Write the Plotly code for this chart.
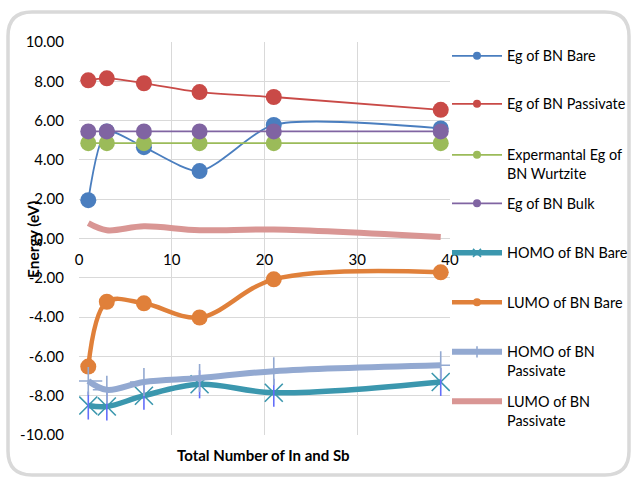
import plotly.graph_objects as go

# Number of In and Sb atoms in the cluster
n_atoms = [1, 3, 7, 13, 21, 39]

# Energies (eV)
eg_bare = [1.95, 5.45, 4.65, 3.43, 5.78, 5.6]
eg_passivate = [8.05, 8.15, 7.9, 7.45, 7.2, 6.55]
eg_wurtzite = [4.85, 4.85, 4.85, 4.85, 4.85, 4.85]
eg_bulk = [5.45, 5.45, 5.45, 5.45, 5.45, 5.45]
homo_bare = [-8.5, -8.55, -8.0, -7.42, -7.85, -7.3]
lumo_bare = [-6.52, -3.22, -3.3, -4.02, -2.08, -1.72]
homo_passivate = [-7.25, -7.7, -7.3, -7.1, -6.75, -6.45]
lumo_passivate = [0.78, 0.42, 0.62, 0.42, 0.46, 0.07]

series_names = [
    "Eg of BN Bare",
    "Eg of BN Passivate",
    "Expermantal Eg of<br>BN Wurtzite",
    "Eg of BN Bulk",
    "HOMO of BN Bare",
    "LUMO of BN Bare",
    "HOMO of BN<br>Passivate",
    "LUMO of BN<br>Passivate",
]

x_ticks = [0, 10, 20, 30, 40]
y_ticks = [-10, -8, -6, -4, -2, 0, 2, 4, 6, 8, 10]

FONT = "Lato"
W, H = 631, 477
L, R, T, B = 79, 181, 42, 42
PW, PH = W - L - R, H - T - B


def px(xp):
    return (xp - L) / PW


def py(yp):
    return (H - B - yp) / PH


fig = go.Figure()

legend_keys = ["legend"] + [f"legend{i}" for i in range(2, 9)]


def add_series(idx, y, color, width, symbol=None, msize=16, mline=0,
               legend_symbol=None, legend_msize=8, smoothing=1.0):
    mode = "lines+markers" if symbol else "lines"
    fig.add_trace(go.Scatter(
        x=n_atoms, y=y, name=series_names[idx], mode=mode, showlegend=False,
        line=dict(color=color, width=width, shape="spline", smoothing=smoothing),
        marker=dict(symbol=symbol or "circle", size=msize, color=color,
                    line=dict(width=mline, color=color)),
    ))
    # legend key with a smaller marker than the plotted points
    lsym = legend_symbol or symbol
    fig.add_trace(go.Scatter(
        x=[None], y=[None], name=series_names[idx], legend=legend_keys[idx],
        mode="lines+markers" if lsym else "lines",
        line=dict(color=color, width=width),
        marker=dict(symbol=lsym or "circle", size=legend_msize, color=color,
                    line=dict(width=mline, color=color)),
    ))


add_series(0, eg_bare, "#4A7EBF", 1.8, "circle", smoothing=0.7)
add_series(1, eg_passivate, "#C94A47", 1.8, "circle")
add_series(2, eg_wurtzite, "#9BBB59", 1.8, "circle")
add_series(3, eg_bulk, "#8064A2", 1.8, "circle")
add_series(4, homo_bare, "#3B97AE", 5.5, "x-thin-open", 18, 1.6, legend_msize=8)
fig.add_trace(go.Scatter(
    x=n_atoms, y=homo_bare, mode="markers", showlegend=False,
    marker=dict(symbol="line-ns-open", size=20, line=dict(width=1.6, color="#3B97AE")),
))
add_series(5, lumo_bare, "#E0803A", 4.5, "circle")
add_series(6, homo_passivate, "#93A9D1", 6, "cross-thin-open", 20, 1.6, legend_msize=8)
add_series(7, lumo_passivate, "#D99694", 6)

# one legend box per series so every entry sits at its own row
legend_rows = [55, 103, 154, 202.5, 252, 301.5, 351, 400.5]
legend_layout = {}
for key, row in zip(legend_keys, legend_rows):
    legend_layout[key] = dict(
        x=px(447), xanchor="left", y=py(row - 15), yanchor="top",
        bgcolor="rgba(0,0,0,0)", borderwidth=0, itemwidth=50,
        valign="top", font=dict(family=FONT, size=14.4, color="#000000"),
        tracegroupgap=0,
    )


def rounded_rect(x0, y0, x1, y1, r):
    a, b, c, d = px(x0), px(x1), py(y0), py(y1)
    rx, ry = r / PW, r / PH
    return (f"M {a + rx},{c} L {b - rx},{c} Q {b},{c} {b},{c - ry} "
            f"L {b},{d + ry} Q {b},{d} {b - rx},{d} L {a + rx},{d} "
            f"Q {a},{d} {a},{d + ry} L {a},{c - ry} Q {a},{c} {a + rx},{c} Z")


fig.update_layout(
    width=W, height=H,
    margin=dict(l=L, r=R, t=T, b=B, autoexpand=False),
    paper_bgcolor="white", plot_bgcolor="white",
    font=dict(family=FONT, size=14, color="#000000"),
    showlegend=True,
    xaxis=dict(
        range=[0, 40], tickvals=x_ticks, ticktext=[str(v) for v in x_ticks],
        showgrid=True, gridcolor="#D9D9D9", gridwidth=1.3, zeroline=False,
        showline=False, anchor="free", position=0.5, ticks="",
        ticklabelstandoff=10, tickfont=dict(family=FONT, size=15),
    ),
    yaxis=dict(
        range=[-10, 10], tickvals=y_ticks, ticktext=[f"{v:.2f}" for v in y_ticks],
        showgrid=True, gridcolor="#D9D9D9", gridwidth=1.3, zeroline=False,
        showline=False, ticks="", ticklabelstandoff=14,
        tickfont=dict(family=FONT, size=15),
    ),
    shapes=[dict(type="path", xref="paper", yref="paper",
                 path=rounded_rect(8, 12, 629, 475, 24),
                 line=dict(color="#D9D9D9", width=3.5), layer="below")],
    annotations=[
        dict(text="<b>Total Number of In and Sb</b>", xref="paper", yref="paper",
             x=px(263), y=py(455), showarrow=False, xanchor="center", yanchor="middle",
             font=dict(family=FONT, size=15)),
        dict(text="<b>Energy (eV)</b>", xref="paper", yref="paper",
             x=px(33), y=py(240), showarrow=False, textangle=-90,
             xanchor="center", yanchor="middle", font=dict(family=FONT, size=15.5)),
    ],
    **legend_layout,
)

fig.write_html("out.html")
